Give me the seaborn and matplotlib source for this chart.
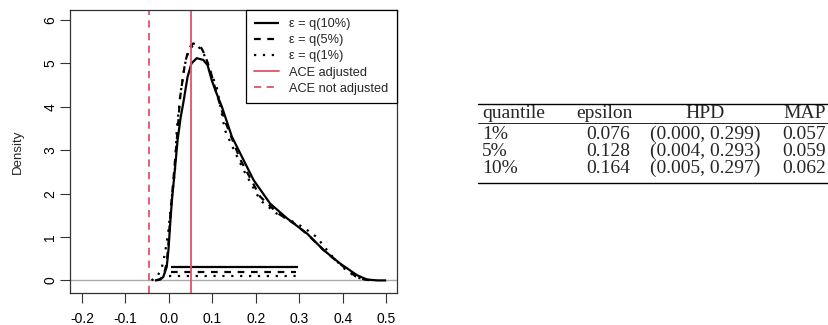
import numpy as np
import pandas as pd
import matplotlib
matplotlib.use("Agg")
import matplotlib.pyplot as plt
import seaborn as sns

# posterior density of ACE
x_q10 = [-0.032, -0.020, -0.013, -0.005, -0.001, 0.003, 0.007, 0.013, 0.020, 0.027, 0.033,
         0.043, 0.052, 0.064, 0.079, 0.089, 0.099, 0.110, 0.122, 0.145, 0.164, 0.195, 0.233,
         0.272, 0.302, 0.318, 0.356, 0.394, 0.433, 0.456, 0.480, 0.500]
y_q10 = [0.00, 0.02, 0.08, 0.31, 0.70, 1.31, 1.85, 2.47, 3.23, 3.75, 4.08,
         4.69, 5.00, 5.12, 5.08, 4.96, 4.60, 4.30, 4.00, 3.31, 2.93, 2.31, 1.77,
         1.43, 1.20, 1.08, 0.70, 0.39, 0.12, 0.02, 0.00, 0.00]

x_q5 = [-0.030, -0.020, -0.012, -0.005, -0.001, 0.003, 0.008, 0.014, 0.020, 0.026, 0.037,
        0.046, 0.056, 0.066, 0.075, 0.083, 0.095, 0.110, 0.130, 0.164, 0.210, 0.250,
        0.290, 0.320, 0.360, 0.400, 0.430, 0.450, 0.470]
y_q5 = [0.00, 0.03, 0.12, 0.40, 0.85, 1.45, 2.05, 2.75, 3.45, 4.23, 5.00,
        5.35, 5.46, 5.42, 5.35, 5.19, 4.85, 4.30, 3.65, 2.79, 1.93, 1.55,
        1.30, 1.05, 0.66, 0.33, 0.09, 0.02, 0.00]

x_q1 = [-0.040, -0.026, -0.016, -0.009, -0.001, 0.006, 0.014, 0.018, 0.026, 0.036, 0.046,
        0.056, 0.066, 0.076, 0.086, 0.098, 0.110, 0.129, 0.150, 0.172, 0.210, 0.248,
        0.280, 0.310, 0.340, 0.370, 0.400, 0.430, 0.450, 0.470]
y_q1 = [0.00, 0.10, 0.31, 0.62, 1.16, 1.85, 2.54, 3.46, 4.25, 4.95, 5.30,
        5.42, 5.40, 5.30, 5.10, 4.75, 4.46, 3.46, 3.00, 2.54, 1.85, 1.54,
        1.38, 1.22, 1.00, 0.62, 0.30, 0.08, 0.02, 0.00]

# table values
quantiles = ["1%", "5%", "10%"]
epsilon = [0.076, 0.128, 0.164]
hpd_lo = [0.000, 0.004, 0.005]
hpd_hi = [0.299, 0.293, 0.297]
map_est = [0.057, 0.059, 0.062]

ace_adjusted = 0.05
ace_not_adjusted = -0.045

red = "#DF536B"
sns.set_style("white")
plt.rcParams["font.family"] = ["Liberation Sans", "DejaVu Sans"]

fig = plt.figure(figsize=(8.29, 3.25), dpi=100)
ax = fig.add_axes([70 / 829, 1 - 293 / 325, 327 / 829, 283 / 325])

curves = {"10%": (x_q10, y_q10), "5%": (x_q5, y_q5), "1%": (x_q1, y_q1)}
dashes = {"10%": (0, ()), "5%": (0, (3, 3)), "1%": (0, (1, 3))}
hpd_level = {"1%": 0.1, "5%": 0.2, "10%": 0.3}

ax.axhline(0, color="#aaaaaa", lw=1, zorder=1)
for q in ["10%", "5%", "1%"]:
    xs, ys = curves[q]
    df = pd.DataFrame({"x": xs, "y": ys})
    sns.lineplot(data=df, x="x", y="y", ax=ax, color="black", lw=1.6,
                 sort=False, estimator=None, linestyle=dashes[q],
                 label="ε = q(" + q + ")")
    i = quantiles.index(q)
    seg = pd.DataFrame({"x": [hpd_lo[i], hpd_hi[i]], "y": [hpd_level[q]] * 2})
    sns.lineplot(data=seg, x="x", y="y", ax=ax, color="black", lw=1.6,
                 estimator=None, linestyle=dashes[q])

ax.axvline(ace_adjusted, color=red, lw=1.3, label="ACE adjusted")
ax.axvline(ace_not_adjusted, color=red, lw=1.3, linestyle=(0, (4, 3)),
           label="ACE not adjusted")

ax.set_xlim(-0.2276, 0.525)
ax.set_ylim(-0.29, 6.23)
ax.set_xticks(np.arange(-0.2, 0.51, 0.1))
ax.set_xticklabels(["-0.2", "-0.1", "0.0", "0.1", "0.2", "0.3", "0.4", "0.5"])
ax.set_yticks(range(0, 7))
ax.tick_params(axis="both", direction="out", length=7, width=0.8, labelsize=10,
               bottom=True, left=True, colors="#333333", labelcolor="black")
ax.tick_params(axis="x", pad=7)
ax.tick_params(axis="y", pad=2)
for lab in ax.get_yticklabels():
    lab.set_rotation(90)
    lab.set_va("center")
ax.set_xlabel("")
ax.set_ylabel("Density", fontsize=9.5, labelpad=14)
for s in ax.spines.values():
    s.set_color("#333333")
    s.set_linewidth(0.9)

leg = ax.legend(loc="upper right", borderaxespad=0, fancybox=False,
                framealpha=1, edgecolor="black", fontsize=9.2, handlelength=1.9,
                handletextpad=0.85, labelspacing=0.32, borderpad=0.65)
leg.get_frame().set_linewidth(0.9)

# table on the right
tfont = {"family": ["Liberation Serif", "DejaVu Serif"], "fontsize": 14}
W, H = 829, 325
def fx(px):
    return px / W
def fy(py):
    return 1 - py / H

fig.add_artist(plt.Line2D([fx(478), fx(829)], [fy(104), fy(104)], color="black", lw=1.0))
fig.add_artist(plt.Line2D([fx(478), fx(829)], [fy(123), fy(123)], color="black", lw=0.6))
fig.add_artist(plt.Line2D([fx(478), fx(829)], [fy(182.5), fy(182.5)], color="black", lw=1.0))

fig.text(fx(482), fy(113.5), "quantile", ha="left", va="center", **tfont)
fig.text(fx(633), fy(113.5), "epsilon", ha="right", va="center", **tfont)
fig.text(fx(705), fy(113.5), "HPD", ha="center", va="center", **tfont)
fig.text(fx(826), fy(113.5), "MAP", ha="right", va="center", **tfont)
for i, q in enumerate(quantiles):
    yy = fy(134.5 + 17 * i)
    fig.text(fx(482), yy, q, ha="left", va="center", **tfont)
    fig.text(fx(630), yy, f"{epsilon[i]:.3f}", ha="right", va="center", **tfont)
    fig.text(fx(705), yy, f"({hpd_lo[i]:.3f}, {hpd_hi[i]:.3f})", ha="center",
             va="center", **tfont)
    fig.text(fx(826), yy, f"{map_est[i]:.3f}", ha="right", va="center", **tfont)

fig.savefig("out.png", dpi=100)
